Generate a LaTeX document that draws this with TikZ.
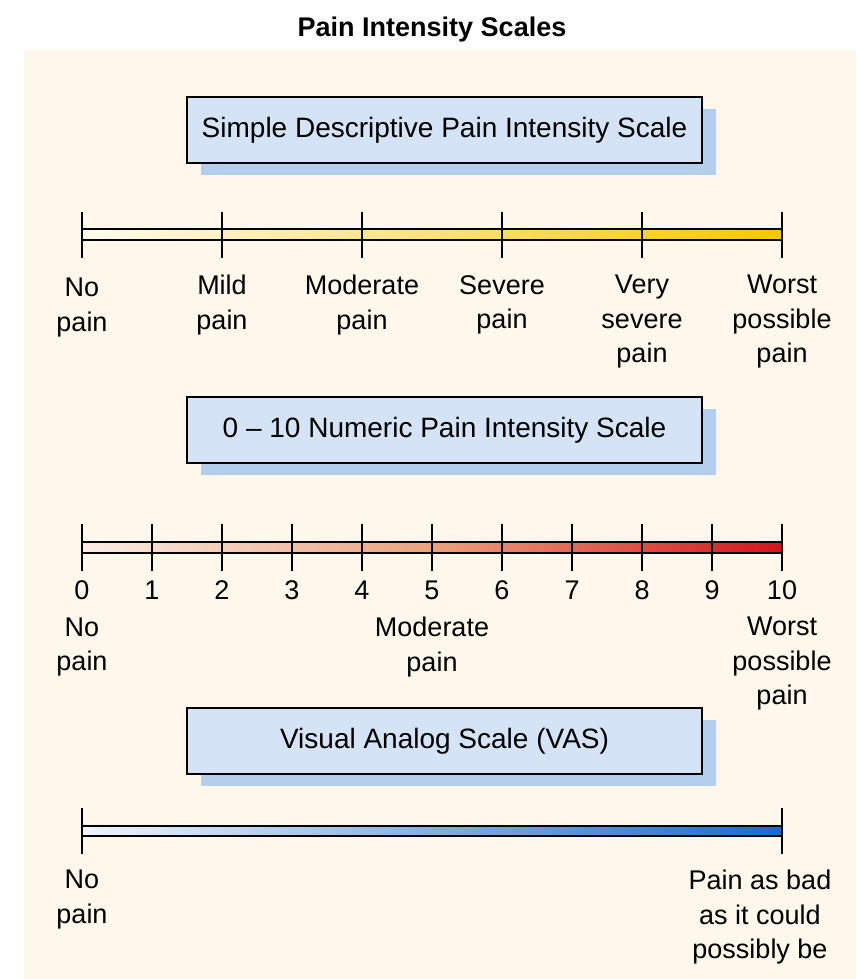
\documentclass[tikz,border=0pt]{standalone}
\usepackage{fontspec}
\setmainfont{Liberation Sans}
\usepackage{tikz}
\usetikzlibrary{shadows}
\definecolor{panelcream}{RGB}{254,247,236}
\definecolor{boxblue}{RGB}{212,227,245}
\definecolor{shadowblue}{RGB}{180,207,238}
\definecolor{goldend}{RGB}{246,200,0}
\definecolor{goldstart}{RGB}{255,252,240}
\definecolor{redend}{RGB}{214,20,28}
\definecolor{redmid}{RGB}{236,162,124}
\definecolor{redstart}{RGB}{250,236,228}
\definecolor{blueend}{RGB}{24,108,196}
\definecolor{bluestart}{RGB}{240,244,252}
\tikzset{
  scalebox/.style={rectangle, draw=black, fill=boxblue, line width=1pt,
    minimum width=257.5pt, minimum height=33pt, inner sep=0pt,
    font=\fontsize{14}{17}\selectfont,
    general shadow={fill=shadowblue, shadow xshift=7pt, shadow yshift=-6pt}},
  tick/.style={line width=1pt, color=black},
  barline/.style={line width=1pt, color=black},
  lbl/.style={align=center, anchor=north, inner sep=0pt}
}

\begin{document}
\begin{tikzpicture}[x=0.5pt, y=-0.5pt, font=\fontsize{13.5}{17.25}\selectfont]
    \useasboundingbox (0,0) rectangle (856,979);
    % Panel
    \fill[panelcream] (24,50) rectangle (856,979);
    \node[inner sep=0pt] (title) at (432,30) {\bfseries Pain Intensity Scales};

    % Simple descriptive scale
    \node[scalebox] (sdbox) at (444.5,130) {Simple Descriptive Pain Intensity Scale};
    \shade[left color=goldstart, right color=goldend] (82,229) rectangle (782,240);
    \draw[barline] (82,229) rectangle (782,240);
    \foreach \x in {82,222,...,782}
      \draw[tick] (\x,212) -- (\x,258);
    \node[lbl] (sd-0) at (82,278) {No\\pain};
    \foreach \x/\txt [count=\i] in {222/{Mild\\pain}, 362/{Moderate\\pain},
        502/{Severe\\pain}, 642/{Very\\severe\\pain}, 782/{Worst\\possible\\pain}}
      \node[lbl] (sd-\i) at (\x,275) {\txt};

    % Numeric scale
    \node[scalebox] (nrbox) at (444.5,430) {0 -- 10 Numeric Pain Intensity Scale};
    \shade[left color=redstart, right color=redend, middle color=redmid] (82,542) rectangle (782,553);
    \draw[barline] (82,542) rectangle (782,553);
    \foreach \n in {0,...,10}{
      \draw[tick] (82+70*\n,524) -- (82+70*\n,571);
      \node[lbl] (nr-\n) at (82+70*\n,580.5) {\n};
    }
    \node[lbl] (nr-none) at (82,617.5) {No\\pain};
    \node[lbl] (nr-mod) at (432,617) {Moderate\\pain};
    \node[lbl] (nr-worst) at (782,617) {Worst\\possible\\pain};

    % Visual analog scale
    \node[scalebox] (vasbox) at (444.5,741) {Visual Analog Scale (VAS)};
    \shade[left color=bluestart, right color=blueend] (82,826) rectangle (782,836);
    \draw[barline] (82,826) rectangle (782,836);
    \draw[tick] (82,808) -- (82,854);
    \draw[tick] (782,808) -- (782,854);
    \node[lbl] (vas-none) at (82,870) {No\\pain};
    \node[lbl] (vas-worst) at (760,870) {Pain as bad\\as it could\\possibly be};
\end{tikzpicture}
\end{document}
